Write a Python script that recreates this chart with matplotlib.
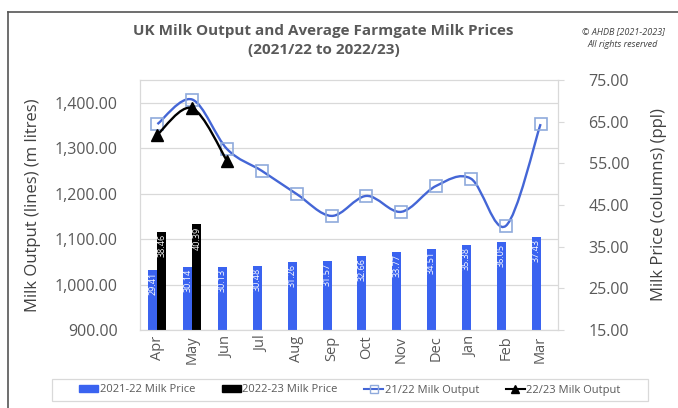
import numpy as np
import matplotlib
matplotlib.use('Agg')
from matplotlib import pyplot as plt
from matplotlib.path import Path
from matplotlib.patches import PathPatch, Patch, Rectangle
from matplotlib.lines import Line2D
from matplotlib.ticker import FuncFormatter

plt.rcParams['font.family'] = ['Open Sans', 'DejaVu Sans']

months = ['Apr', 'May', 'Jun', 'Jul', 'Aug', 'Sep', 'Oct', 'Nov', 'Dec', 'Jan', 'Feb', 'Mar']

# Milk price (ppl) - columns
price_2122 = [29.41, 30.14, 30.13, 30.48, 31.26, 31.57, 32.66, 33.77, 34.51, 35.38, 36.05, 37.43]
price_2223 = [38.46, 40.39]

# Milk output (m litres) - lines
output_2122 = [1353, 1407, 1298, 1250, 1199, 1151, 1195, 1160, 1217, 1233, 1129, 1353]
output_2223 = [1330, 1388, 1272]

BAR_BLUE = '#3a63f0'
LINE_BLUE = '#4466d6'
GREY = '#595959'
GRID = '#d9d9d9'


def smooth_path(xs, ys):
    # Excel style smoothed line: cubic bezier through every point
    pts = np.column_stack([xs, ys]).astype(float)
    ext = np.vstack([pts[0], pts, pts[-1]])
    verts = [tuple(pts[0])]
    codes = [Path.MOVETO]
    for i in range(len(pts) - 1):
        p0, p1, p2, p3 = ext[i], ext[i + 1], ext[i + 2], ext[i + 3]
        c1 = p1 + (p2 - p0) / 6
        c2 = p2 - (p3 - p1) / 6
        verts += [tuple(c1), tuple(c2), tuple(p2)]
        codes += [Path.CURVE4] * 3
    return Path(verts, codes)


fig = plt.figure(figsize=(6.78, 4.08), dpi=100)
ax = fig.add_axes([140 / 678, 78 / 408, 418 / 678, 250 / 408])
ax2 = ax.twinx()

x = np.arange(len(months))
x_out23 = x[:len(output_2223)]
x_pr23 = x[:len(price_2223)]

# lines on the left axis
ax.add_patch(PathPatch(smooth_path(x, output_2122), fill=False, edgecolor=LINE_BLUE, lw=1.7, zorder=3))
ax.plot(x, output_2122, linestyle='none', marker='s', markersize=8,
        markerfacecolor='none', markeredgecolor='#8faadc', markeredgewidth=1.2, zorder=4)
ax.add_patch(PathPatch(smooth_path(x_out23, output_2223), fill=False, edgecolor='black', lw=1.7, zorder=5))
ax.plot(x_out23, output_2223, linestyle='none', marker='^', markersize=8, color='black', zorder=6)

ax.set_ylim(900, 1450)
ax.set_yticks(np.arange(900, 1401, 100))
ax.yaxis.set_major_formatter(FuncFormatter(lambda v, p: f'{v:,.2f}'))
ax.set_xlim(-0.5, 11.5)
ax.set_xticks(x)
ax.set_xticklabels(months, rotation=90)
ax.grid(axis='y', color=GRID, lw=0.9)
ax.set_axisbelow(True)
ax.tick_params(axis='y', length=0, labelsize=11.5, labelcolor=GREY, pad=16)
ax.tick_params(axis='x', length=0, labelsize=10.5, labelcolor=GREY, pad=4)
ax.set_ylabel('Milk Output (lines) (m litres)', fontsize=12, color='#404040', labelpad=10)

# bars on the right axis
w = 0.26
ax2.bar(x - w / 2, price_2122, width=w, color=BAR_BLUE, zorder=2)
ax2.bar(x_pr23 + w / 2, price_2223, width=w, color='black', zorder=2)
for xi, v in zip(x - w / 2, price_2122):
    ax2.text(xi, v - 0.5, f'{v:.2f}', rotation=90, ha='center', va='top',
             color='white', fontsize=6.5)
for xi, v in zip(x_pr23 + w / 2, price_2223):
    ax2.text(xi, v - 0.5, f'{v:.2f}', rotation=90, ha='center', va='top',
             color='white', fontsize=6.5)
ax2.set_ylim(15, 75)
ax2.set_yticks(np.arange(15, 76, 10))
ax2.yaxis.set_major_formatter(FuncFormatter(lambda v, p: f'{v:.2f}'))
ax2.tick_params(axis='y', length=4, color=GRID, labelsize=11.5, labelcolor=GREY, pad=18)
ax2.set_ylabel('Milk Price (columns) (ppl)', fontsize=12, color='#404040', labelpad=16)

for a in (ax, ax2):
    for s in a.spines.values():
        s.set_color(GRID)

fig.text(0.477, 0.90, 'UK Milk Output and Average Farmgate Milk Prices\n(2021/22 to 2022/23)',
         ha='center', va='center', fontsize=11, fontweight='bold', color=GREY, linespacing=1.45)
fig.text(0.919, 0.907, '© AHDB [2021-2023]\nAll rights reserved', ha='center', va='center',
         fontsize=6.5, style='italic', color='#404040', linespacing=1.45)

handles = [
    Patch(color=BAR_BLUE, label='2021-22 Milk Price'),
    Patch(color='black', label='2022-23 Milk Price'),
    Line2D([], [], color=LINE_BLUE, lw=1.5, marker='s', markersize=6, markerfacecolor='none',
           markeredgecolor='#8faadc', label='21/22 Milk Output'),
    Line2D([], [], color='black', lw=1.5, marker='^', markersize=6, label='22/23 Milk Output'),
]
leg = fig.legend(handles=handles, loc='center', ncol=4,
                 bbox_to_anchor=(350 / 678, 1 - 390 / 408),
                 fontsize=8, frameon=False, handlelength=1.7, handleheight=0.6,
                 handletextpad=0.15, columnspacing=2.4)
for t in leg.get_texts():
    t.set_color(GREY)
fig.add_artist(Rectangle((52 / 678, 1 - 401 / 408), 596 / 678, 22 / 408,
                         transform=fig.transFigure, fill=False, edgecolor=GRID, lw=0.9))

# outer chart border (top and left edges visible)
fig.add_artist(Line2D([8 / 678, 1.0], [1 - 12 / 408, 1 - 12 / 408], color='#555555', lw=1.2))
fig.add_artist(Line2D([8 / 678, 8 / 678], [0, 1 - 12 / 408], color='#555555', lw=1.2))

fig.savefig('out.png', dpi=100)
